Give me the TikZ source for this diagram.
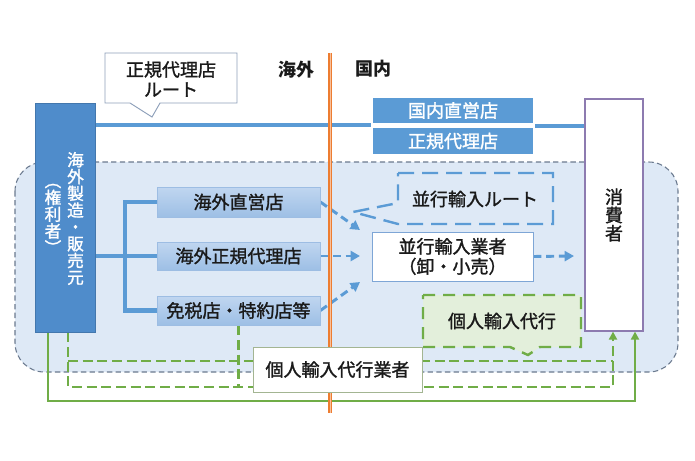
\documentclass[tikz,border=0pt]{standalone}
\usepackage{fontspec}
\setmainfont{Noto Sans CJK JP}
\newfontfamily\jpm{Noto Sans CJK JP}[FakeBold=1.5]
\usetikzlibrary{arrows.meta,calc}
\definecolor{mblue}{HTML}{5B9BD5}
\definecolor{oblue}{HTML}{4F8CCB}
\definecolor{regfill}{HTML}{DEE9F6}
\definecolor{regline}{HTML}{6B7A8F}
\definecolor{lbtop}{HTML}{C0D6F0}
\definecolor{lbbot}{HTML}{9DBFE5}
\definecolor{lbline}{HTML}{9DBDE3}
\definecolor{impline}{HTML}{7EA6D6}
\definecolor{consline}{HTML}{8D7BB0}
\definecolor{orgC}{HTML}{ED7D31}
\definecolor{orgL}{HTML}{F7C09C}
\definecolor{gC}{HTML}{70AD47}
\definecolor{gfill}{HTML}{E3EFDB}
\definecolor{cline}{HTML}{8EA0BA}
\definecolor{agline}{HTML}{A3B592}
\definecolor{txt}{HTML}{1A1A1A}
\newcommand\vsmall{\jpm\fontsize{12.5}{12.6}\selectfont\lineskiplimit=-8pt\relax}
\newcommand\vlarge{\jpm\fontsize{13.5}{13.7}\selectfont\lineskiplimit=-8pt\relax}
\newcommand\nfont{\jpm\fontsize{13.5}{15}\selectfont}
\newcommand\bfont{\bfseries\fontsize{13.5}{15}\selectfont}
\pgfdeclarelayer{bg}
\pgfdeclarelayer{mid}
\pgfsetlayers{bg,mid,main}
\tikzset{
  txtfont/.style={font=\nfont, text=txt},
  vfont/.style={font=\vsmall, align=center, inner sep=0pt},
  lightbox/.style={txtfont, draw=lbline, line width=0.6pt, top color=lbtop, bottom color=lbbot,
     minimum width=122.25pt, inner sep=0pt},
  darkbox/.style={font=\nfont, text=white, fill=mblue, draw=white, line width=0.9pt,
     minimum width=121.5pt, inner sep=0pt},
  plainlbl/.style={txtfont, inner sep=0pt, align=center},
  blueline/.style={draw=mblue, line width=3pt},
  trunkline/.style={draw=mblue, line width=3.4pt},
  barrow/.style={draw=mblue, line width=2.2pt, dash pattern=on 6pt off 3.5pt,
     -{Triangle[length=7pt,width=7.5pt]}},
  gdash/.style={draw=gC, line width=2.1pt, dash pattern=on 7.5pt off 3.5pt},
  gsolid/.style={draw=gC, line width=1.8pt},
  gtip/.style={-{Triangle[length=6pt,width=6pt]}},
}
\begin{document}
\begin{tikzpicture}[x=0.75pt,y=-0.75pt]
\useasboundingbox (0,0) rectangle (695,460);

% ---------- nodes ----------
\node[fill=oblue, draw=oblue!85!black, line width=0.5pt, minimum width=45pt, minimum height=171.75pt, inner sep=0pt] (owner) at (65,217.5) {};
\node[vfont, text=white] (ownerA) at (75.5,218.5) {海\\外\\製\\造\\・\\販\\売\\元};
\node[vfont, text=white] (ownerB) at (53,219) {︵\\権\\利\\者\\︶};

\node[fill=white, draw=consline, line width=0.9pt, minimum width=43.5pt, minimum height=174pt, inner sep=0pt,
      font=\vlarge, align=center, text=txt] (cons) at (614,215) {消\\費\\者};

\node[darkbox, minimum height=20.25pt] (dom1) at (453,110.5) {国内直営店};
\node[darkbox, minimum height=21pt] (dom2) at (453,141) {正規代理店};

\node[lightbox, minimum height=22.5pt] (box1) at (238.5,202) {海外直営店};
\node[lightbox, minimum height=21pt] (box2) at (238.5,256) {海外正規代理店};
\node[lightbox, minimum height=21.75pt] (box3) at (238.5,310.5) {免税店・特約店等};

\node[txtfont, fill=white, draw=impline, line width=0.7pt, minimum width=120.75pt, minimum height=36.75pt,
      inner sep=0pt, align=center] (imp) at (452.5,256.5) {並行輸入業者\\（卸・小売）};

\node[txtfont, fill=white, draw=agline, line width=0.7pt, minimum width=126.75pt, minimum height=33.75pt,
      inner sep=0pt] (agent) at (337.5,369.5) {個人輸入代行業者};

% callout: 正規代理店ルート
\draw[draw=cline, fill=white, line width=0.7pt] (105,53) -- (237,53) -- (237,103) -- (160,103) -- (152,117) -- (130,103) -- (105,103) -- cycle;
\node[plainlbl] (c1) at (171,79) {正規代理店\\ルート};

% callout: 並行輸入ルート
\draw[draw=mblue, line width=1.8pt, dash pattern=on 12pt off 6pt] (398,173) -- (553,173) -- (553,224) -- (398,224) -- (353,212) -- (398,203) -- cycle;
\node[plainlbl] (c2) at (475,199) {並行輸入ルート};

% callout: 個人輸入代行
\draw[draw=gC, fill=gfill, line width=1.8pt, dash pattern=on 9pt off 6pt] (423,295) -- (581,295) -- (581,347) -- (540,347) -- (528,355) -- (510,347) -- (423,347) -- cycle;
\node[plainlbl] (c3) at (502,321) {個人輸入代行};

\node[plainlbl, font=\bfont] (kaigai) at (296,70) {海外};
\node[plainlbl, font=\bfont] (kokunai) at (373,69) {国内};

% ---------- named coordinates ----------
\coordinate (tr) at (125,0);
\coordinate (a1) at (360,230);
\coordinate (a2) at (360,256);
\coordinate (a3) at (360,282);
\coordinate (a4) at (574,256);
\coordinate (gA) at (68,387);
\coordinate (gB) at (613,387);
\coordinate (gC1) at (68,361);
\coordinate (gD) at (613,361);
\coordinate (s1) at (48,401);
\coordinate (s2) at (635,401);
\coordinate (o1) at (330,53);
\coordinate (o2) at (330,413);

% ---------- background ----------
\begin{pgfonlayer}{bg}
  \fill[white] (0,0) rectangle (695,460);
  \draw[fill=regfill, draw=regline, line width=0.8pt, dash pattern=on 4pt off 2.5pt, rounded corners=22pt]
    (15,162) rectangle (678,372);
\end{pgfonlayer}

% ---------- connectors ----------
\begin{pgfonlayer}{mid}
  \draw[blueline] (owner.east |- dom1.south west) -- (dom1.south west);
  \draw[blueline] (dom2.north east) -- (dom2.north east -| cons.west);
  \draw[trunkline] (owner.east |- box2.west) -- (box2.west);
  \draw[trunkline] (box1.west) -| (tr |- box3.west) -- (box3.west);
  \draw[barrow] (box1.east) -- (a1);
  \draw[barrow] (box2.east) -- (a2);
  \draw[barrow] (box3.east) -- (a3);
  \draw[barrow] (imp.east) -- (a4);
  \draw[gdash] (box3.south) -- (box3.south |- gA);
  \draw[gdash] (gC1) -- (gD);
  \draw[gdash, gtip] (owner.south -| gA) -- (gA) -- (gB) -- (cons.south -| gB);
  \draw[gsolid, gtip] (owner.south -| s1) -- (s1) -- (s2) -- (cons.south -| s2);
  \draw[draw=orgC, line width=0.9pt, double=orgL, double distance=0.7pt] (o1) -- (o2);
\end{pgfonlayer}
\end{tikzpicture}
\end{document}
